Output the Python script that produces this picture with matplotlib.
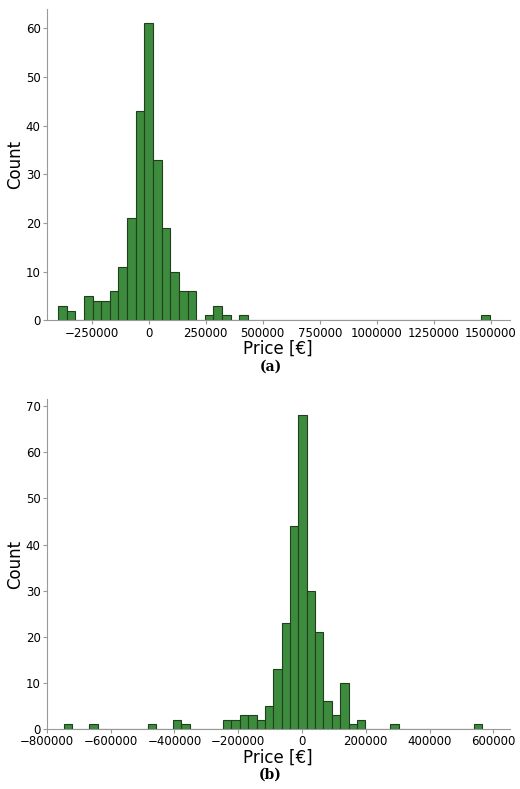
import numpy as np
import matplotlib.pyplot as plt

# panel (a): 50 bins
counts_a = [3, 2, 0, 5, 4, 4, 6, 11, 21, 43, 61, 33, 19, 10, 6, 6, 0, 1, 3, 1, 0, 1] + [0] * 27 + [1]
lo_a, hi_a = -398000, 1497000

# panel (b): 50 bins
counts_b = [0] * 50
for i, c in {0: 1, 3: 1, 10: 1, 13: 2, 14: 1, 19: 2, 20: 2, 21: 3, 22: 3, 23: 2, 24: 5,
             25: 13, 26: 23, 27: 44, 28: 68, 29: 30, 30: 21, 31: 6, 32: 3, 33: 10,
             34: 1, 35: 2, 39: 1, 49: 1}.items():
    counts_b[i] = c
lo_b, hi_b = -746000, 566000

green = '#3d8b3d'
edge = '#1f3f1f'

fig = plt.figure(figsize=(5.2, 7.89), dpi=100)
ax1 = fig.add_axes([0.09, 0.594, 0.89, 0.395])
ax2 = fig.add_axes([0.09, 0.076, 0.89, 0.418])

for ax, counts, lo, hi in [(ax1, counts_a, lo_a, hi_a), (ax2, counts_b, lo_b, hi_b)]:
    edges = np.linspace(lo, hi, len(counts) + 1)
    centers = (edges[:-1] + edges[1:]) / 2
    ax.hist(centers, bins=edges, weights=counts, color=green, edgecolor=edge, linewidth=0.8)
    ax.spines['top'].set_visible(False)
    ax.spines['right'].set_visible(False)
    ax.spines['left'].set_color('#999999')
    ax.spines['bottom'].set_color('#999999')
    ax.tick_params(labelsize=8.5, color='#999999', length=3, pad=1.5)
    ax.set_xlabel('Price [€]', fontsize=12, labelpad=0)
    ax.set_ylabel('Count', fontsize=12, labelpad=1)
    ax.ticklabel_format(axis='x', style='plain')

ax1.set_xlim(-447000, 1583000)
ax1.set_ylim(0, 64)
ax1.set_xticks([-250000, 0, 250000, 500000, 750000, 1000000, 1250000, 1500000])
ax2.set_xlim(-799000, 651000)
ax2.set_ylim(0, 71.5)
ax2.set_xticks([-800000, -600000, -400000, -200000, 0, 200000, 400000, 600000])

fig.text(0.52, 1 - 367 / 789, '(a)', ha='center', va='center', family='DejaVu Serif', fontweight='bold', fontsize=10)
fig.text(0.52, 1 - 775 / 789, '(b)', ha='center', va='center', family='DejaVu Serif', fontweight='bold', fontsize=10)

fig.savefig('out.png')
